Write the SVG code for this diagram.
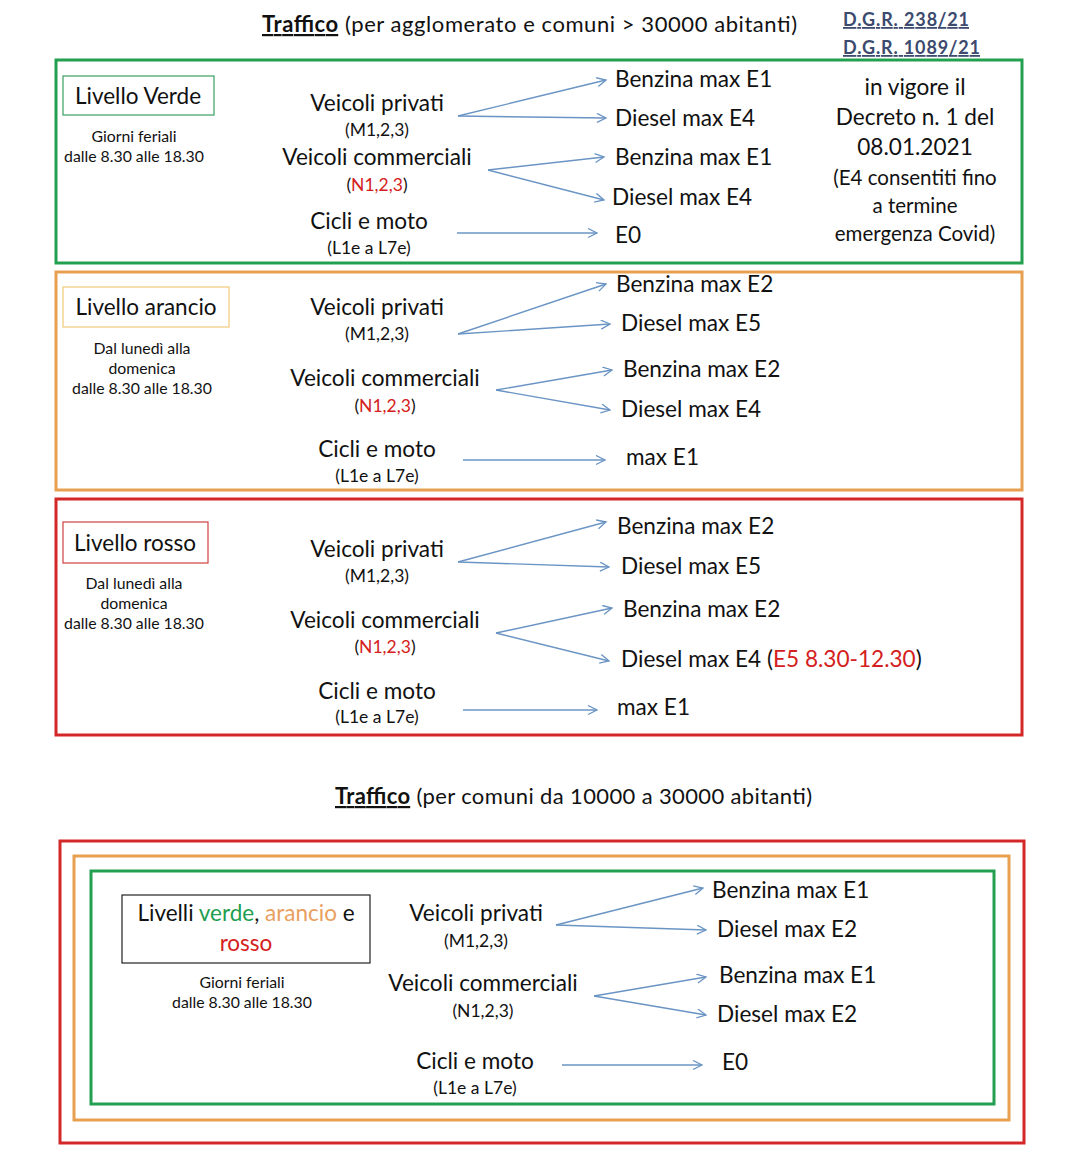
<svg xmlns="http://www.w3.org/2000/svg" width="1080" height="1168" viewBox="0 0 1080 1168">
<style>
text{font-family:Lato,"Liberation Sans",sans-serif;fill:#111}
.t{font-size:22.6px}
.s{font-size:17.5px}
.xs{font-size:15.8px}
.m{text-anchor:middle}
.red{fill:#d42020}
.grn{fill:#1e9e50}
.org{fill:#e8a060}
.dgr{font-size:18px;font-weight:bold;fill:#3c4a6e;text-decoration:underline}
.frame{fill:none;stroke-width:3}
.conn line{stroke:#6a94c4;stroke-width:1.4;marker-end:url(#ah)}
</style>
<defs>
<marker id="ah" markerWidth="12" markerHeight="12" refX="10" refY="5" orient="auto" markerUnits="userSpaceOnUse">
<path d="M1,0.5 L10,5 L1,9.5" fill="none" stroke="#6a94c4" stroke-width="1.3"/>
</marker>
</defs>
<rect width="1080" height="1168" fill="#fff"/>

<g id="title1">
<text x="262" y="32" font-size="22" textLength="535"><tspan font-weight="bold" text-decoration="underline">Traffico</tspan> (per agglomerato e comuni &gt; 30000 abitanti)</text>
</g>
<g id="dgr">
<text class="dgr" x="843" y="26" textLength="126">D.G.R. 238/21</text>
<text class="dgr" x="843" y="54" textLength="137">D.G.R. 1089/21</text>
</g>

<!-- Verde -->
<g id="verde">
<rect class="frame" x="56" y="60" width="966" height="203" stroke="#22a050"/>
<rect x="63" y="76" width="151" height="39" fill="none" stroke="#3aa060" stroke-width="1.2"/>
<text class="m" x="138" y="104" font-size="22.5">Livello Verde</text>
<text class="m xs" x="134" y="142">Giorni feriali</text>
<text class="m xs" x="134" y="162">dalle 8.30 alle 18.30</text>
<text class="m t" x="377" y="111">Veicoli privati</text>
<text class="m s" x="377" y="136">(M1,2,3)</text>
<text class="m t" x="377" y="165">Veicoli commerciali</text>
<text class="m s" x="377" y="191">(<tspan class="red">N1,2,3</tspan>)</text>
<text class="m t" x="369" y="229">Cicli e moto</text>
<text class="m s" x="369" y="254">(L1e a L7e)</text>
<text class="t" x="615" y="87">Benzina max E1</text>
<text class="t" x="615" y="126">Diesel max E4</text>
<text class="t" x="615" y="165">Benzina max E1</text>
<text class="t" x="612" y="205">Diesel max E4</text>
<text class="t" x="615" y="243">E0</text>
<text class="m t" x="915" y="95">in vigore il</text>
<text class="m t" x="915" y="125">Decreto n. 1 del</text>
<text class="m t" x="915" y="155">08.01.2021</text>
<text class="m" x="915" y="185" font-size="20.5">(E4 consentiti fino</text>
<text class="m" x="915" y="213" font-size="20.5">a termine</text>
<text class="m" x="915" y="241" font-size="20.5">emergenza Covid)</text>
</g>

<!-- Arancio -->
<g id="arancio">
<rect class="frame" x="56" y="272" width="966" height="218" stroke="#e8a050"/>
<rect x="63" y="287" width="166" height="40" fill="none" stroke="#f0c878" stroke-width="1.2"/>
<text class="m" x="146" y="315" font-size="22.5">Livello arancio</text>
<text class="m xs" x="142" y="354">Dal lunedì alla</text>
<text class="m xs" x="142" y="374">domenica</text>
<text class="m xs" x="142" y="394">dalle 8.30 alle 18.30</text>
<text class="m t" x="377" y="315">Veicoli privati</text>
<text class="m s" x="377" y="340">(M1,2,3)</text>
<text class="m t" x="385" y="386">Veicoli commerciali</text>
<text class="m s" x="385" y="412">(<tspan class="red">N1,2,3</tspan>)</text>
<text class="m t" x="377" y="457">Cicli e moto</text>
<text class="m s" x="377" y="482">(L1e a L7e)</text>
<text class="t" x="616" y="292">Benzina max E2</text>
<text class="t" x="621" y="331">Diesel max E5</text>
<text class="t" x="623" y="377">Benzina max E2</text>
<text class="t" x="621" y="417">Diesel max E4</text>
<text class="t" x="626" y="465">max E1</text>
</g>

<!-- Rosso -->
<g id="rosso">
<rect class="frame" x="56" y="499" width="966" height="236" stroke="#d42828"/>
<rect x="63" y="522" width="145" height="41" fill="none" stroke="#d04040" stroke-width="1.2"/>
<text class="m" x="135" y="551" font-size="22.5">Livello rosso</text>
<text class="m xs" x="134" y="589">Dal lunedì alla</text>
<text class="m xs" x="134" y="609">domenica</text>
<text class="m xs" x="134" y="629">dalle 8.30 alle 18.30</text>
<text class="m t" x="377" y="557">Veicoli privati</text>
<text class="m s" x="377" y="582">(M1,2,3)</text>
<text class="m t" x="385" y="628">Veicoli commerciali</text>
<text class="m s" x="385" y="653">(<tspan class="red">N1,2,3</tspan>)</text>
<text class="m t" x="377" y="699">Cicli e moto</text>
<text class="m s" x="377" y="723">(L1e a L7e)</text>
<text class="t" x="617" y="534">Benzina max E2</text>
<text class="t" x="621" y="574">Diesel max E5</text>
<text class="t" x="623" y="617">Benzina max E2</text>
<text class="t" x="621" y="667">Diesel max E4 (<tspan class="red">E5 8.30-12.30</tspan>)</text>
<text class="t" x="617" y="715">max E1</text>
</g>

<g id="title2">
<text x="335" y="804" font-size="22" textLength="477"><tspan font-weight="bold" text-decoration="underline">Traffico</tspan> (per comuni da 10000 a 30000 abitanti)</text>
</g>

<!-- Bottom -->
<g id="comuni">
<rect class="frame" x="60" y="841" width="964" height="302" stroke="#d42828"/>
<rect class="frame" x="74" y="856" width="935" height="264" stroke="#e8a050"/>
<rect class="frame" x="91" y="871" width="903" height="233" stroke="#22a050"/>
<rect x="122" y="895" width="248" height="68" fill="none" stroke="#222" stroke-width="1.2"/>
<text class="m" x="246" y="921" font-size="22.5">Livelli <tspan class="grn">verde</tspan>, <tspan class="org">arancio</tspan> e</text>
<text class="m red" x="246" y="951" font-size="22.5">rosso</text>
<text class="m xs" x="242" y="988">Giorni feriali</text>
<text class="m xs" x="242" y="1008">dalle 8.30 alle 18.30</text>
<text class="m t" x="476" y="921">Veicoli privati</text>
<text class="m s" x="476" y="947">(M1,2,3)</text>
<text class="m t" x="483" y="991">Veicoli commerciali</text>
<text class="m s" x="483" y="1017">(N1,2,3)</text>
<text class="m t" x="475" y="1069">Cicli e moto</text>
<text class="m s" x="475" y="1094">(L1e a L7e)</text>
<text class="t" x="712" y="898">Benzina max E1</text>
<text class="t" x="717" y="937">Diesel max E2</text>
<text class="t" x="719" y="983">Benzina max E1</text>
<text class="t" x="717" y="1022">Diesel max E2</text>
<text class="t" x="722" y="1070">E0</text>
</g>

<g id="connectors" class="conn">
<line x1="458" y1="116" x2="606" y2="80"/>
<line x1="458" y1="116" x2="606" y2="118"/>
<line x1="488" y1="170" x2="604" y2="157"/>
<line x1="488" y1="170" x2="604" y2="200"/>
<line x1="457" y1="233" x2="597" y2="233"/>

<line x1="458" y1="334" x2="606" y2="284"/>
<line x1="458" y1="334" x2="610" y2="324"/>
<line x1="496" y1="390" x2="612" y2="370"/>
<line x1="496" y1="390" x2="610" y2="410"/>
<line x1="463" y1="460" x2="605" y2="460"/>

<line x1="458" y1="562" x2="606" y2="522"/>
<line x1="458" y1="562" x2="609" y2="567"/>
<line x1="496" y1="633" x2="612" y2="608"/>
<line x1="496" y1="633" x2="609" y2="661"/>
<line x1="463" y1="710" x2="597" y2="710"/>

<line x1="556" y1="925" x2="703" y2="888"/>
<line x1="556" y1="925" x2="706" y2="930"/>
<line x1="594" y1="996" x2="706" y2="977"/>
<line x1="594" y1="996" x2="706" y2="1015"/>
<line x1="562" y1="1065" x2="702" y2="1065"/>
</g>
</svg>
